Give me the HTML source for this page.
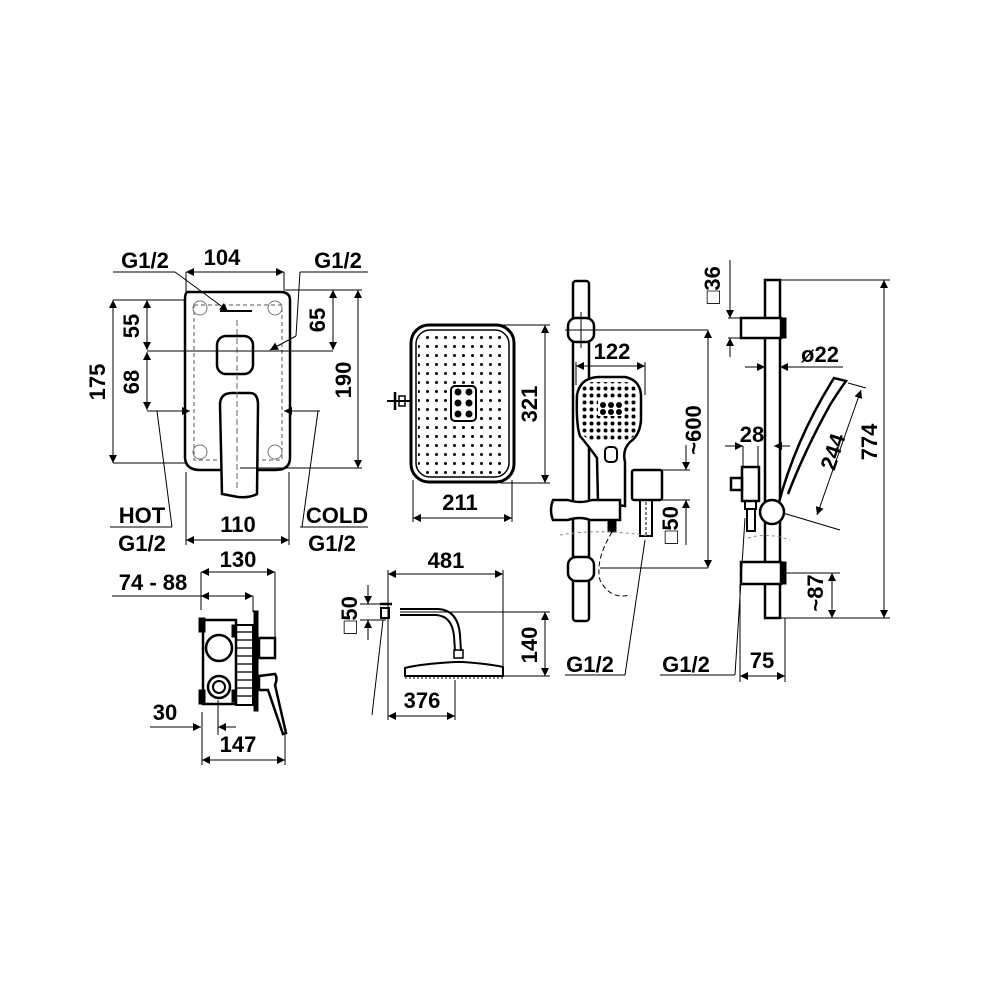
<!DOCTYPE html>
<html><head><meta charset="utf-8"><style>
html,body{margin:0;padding:0;background:#fff;}
svg{display:block}
text{font-family:"Liberation Sans",Arial,sans-serif;font-weight:bold;font-size:22px;fill:#000}
</style></head><body>
<svg width="1000" height="1000" viewBox="0 0 1000 1000" xmlns="http://www.w3.org/2000/svg">
<defs>
<marker id="a" viewBox="0 0 10 10" refX="10" refY="5" markerWidth="16" markerHeight="8" orient="auto-start-reverse" markerUnits="userSpaceOnUse"><path d="M0,0 L10,5 L0,10 z" fill="#000"/></marker>
<pattern id="dots" width="9" height="9" patternUnits="userSpaceOnUse"><circle cx="4.5" cy="4.5" r="1.5" fill="#000"/></pattern>
<pattern id="dots2" width="7" height="7" patternUnits="userSpaceOnUse"><circle cx="3.5" cy="3.5" r="2" fill="#000"/></pattern>
</defs>
<rect width="1000" height="1000" fill="#fff"/>
<g fill="none" stroke="#000" stroke-width="1">

<!-- ===== Valve front ===== -->
<path d="M188,292 Q185,292 185,300 L185,458 Q186,470 200,470 L275,470 Q290,470 290,458 L290,300 Q290,292 280,292 Z" stroke-width="2.5"/>
<rect x="194" y="305" width="88" height="155" stroke-dasharray="4,3" stroke="#555"/>
<circle cx="200" cy="308" r="7" stroke="#777"/><circle cx="275" cy="308" r="7" stroke="#777"/>
<circle cx="200" cy="452" r="7" stroke="#777"/><circle cx="275" cy="452" r="7" stroke="#777"/>
<rect x="217" y="336" width="36" height="38" rx="9" stroke-width="2.5"/>
<path d="M222,494 L220,405 Q220,393 232,393 L250,393 Q258,393 258,405 L257,494 Q250,498 238,497 Z" stroke-width="2.5" fill="#fff"/>
<line x1="237" y1="320" x2="237" y2="490" stroke-dasharray="6,3" stroke="#666"/>
<line x1="220" y1="311" x2="252" y2="311" stroke-width="2"/>
<line x1="186" y1="272" x2="284" y2="272" marker-start="url(#a)" marker-end="url(#a)"/>
<line x1="186" y1="272" x2="186" y2="292"/><line x1="284" y1="272" x2="284" y2="292"/>
<line x1="113" y1="272" x2="175" y2="272"/><line x1="175" y1="272" x2="228" y2="311" marker-end="url(#a)"/>
<line x1="300" y1="272" x2="368" y2="272"/><line x1="300" y1="272" x2="296" y2="336"/><line x1="296" y1="336" x2="270" y2="350" marker-end="url(#a)"/>
<line x1="113" y1="300" x2="113" y2="463" marker-start="url(#a)" marker-end="url(#a)"/>
<line x1="113" y1="300" x2="185" y2="300"/><line x1="113" y1="463" x2="185" y2="463"/>
<line x1="147" y1="300" x2="147" y2="350" marker-start="url(#a)" marker-end="url(#a)"/>
<line x1="147" y1="352" x2="147" y2="410" marker-start="url(#a)" marker-end="url(#a)"/>
<line x1="147" y1="351" x2="333" y2="351"/>
<line x1="147" y1="411" x2="190" y2="411" marker-end="url(#a)"/>
<line x1="320" y1="411" x2="284" y2="411" marker-end="url(#a)"/>
<line x1="333" y1="290" x2="333" y2="350" marker-start="url(#a)" marker-end="url(#a)"/>
<line x1="358" y1="290" x2="358" y2="468" marker-start="url(#a)" marker-end="url(#a)"/>
<line x1="285" y1="290" x2="362" y2="290"/><line x1="240" y1="468" x2="362" y2="468"/>
<line x1="157" y1="411" x2="172" y2="527"/><line x1="318" y1="411" x2="302" y2="527"/>
<line x1="110" y1="527" x2="172" y2="527"/><line x1="300" y1="527" x2="368" y2="527"/>
<line x1="186" y1="472" x2="186" y2="545"/><line x1="289" y1="472" x2="289" y2="545"/>
<line x1="186" y1="540" x2="289" y2="540" marker-start="url(#a)" marker-end="url(#a)"/>

<!-- ===== Valve body ===== -->
<line x1="201" y1="572" x2="275" y2="572" marker-start="url(#a)" marker-end="url(#a)"/>
<line x1="201" y1="572" x2="201" y2="610"/><line x1="275" y1="572" x2="275" y2="655"/>
<line x1="112" y1="596" x2="253" y2="596"/>
<line x1="201" y1="596" x2="253" y2="596" marker-start="url(#a)" marker-end="url(#a)"/>
<line x1="253" y1="596" x2="253" y2="612"/>
<rect x="203" y="620" width="33" height="84" stroke-width="2.5"/>
<rect x="199" y="618" width="6" height="14" fill="#000"/><rect x="199" y="690" width="6" height="14" fill="#000"/>
<rect x="232" y="625" width="4" height="12" fill="#000"/><rect x="232" y="690" width="4" height="12" fill="#000"/>
<circle cx="219" cy="648" r="13" stroke-width="2.5"/>
<circle cx="219" cy="687" r="11" stroke-width="2.5"/><circle cx="219" cy="687" r="6" stroke-width="2"/>
<rect x="236" y="625" width="17" height="80" stroke-width="2"/>
<g stroke-width="1.3"><line x1="237" y1="632" x2="252" y2="632"/><line x1="237" y1="640" x2="252" y2="640"/><line x1="237" y1="648" x2="252" y2="648"/><line x1="237" y1="656" x2="252" y2="656"/><line x1="237" y1="664" x2="252" y2="664"/><line x1="237" y1="672" x2="252" y2="672"/><line x1="237" y1="680" x2="252" y2="680"/><line x1="237" y1="688" x2="252" y2="688"/><line x1="237" y1="696" x2="252" y2="696"/></g>
<rect x="254" y="611" width="4" height="100" fill="#000"/>
<rect x="259" y="638" width="16" height="20" stroke-width="2.5"/>
<path d="M259,676 L275,674 Q278,678 275,685 L286,733 L283,734 L268,690 L259,690 Z" stroke-width="2.5"/>
<line x1="150" y1="727" x2="201" y2="727" marker-end="url(#a)"/>
<line x1="236" y1="727" x2="218" y2="727" marker-end="url(#a)"/>
<line x1="218" y1="700" x2="218" y2="735"/>
<line x1="202" y1="712" x2="202" y2="765"/><line x1="285" y1="735" x2="285" y2="765"/>
<line x1="202" y1="760" x2="285" y2="760" marker-start="url(#a)" marker-end="url(#a)"/>

<!-- ===== Rain shower front ===== -->
<rect x="411" y="325" width="103" height="157" rx="18" stroke-width="3"/>
<rect x="416" y="330" width="93" height="147" rx="14" stroke-width="1.5"/>
<rect x="418" y="332" width="89" height="143" rx="12" fill="url(#dots)" stroke="none"/>
<rect x="451" y="386" width="25" height="35" rx="4" fill="#fff" stroke-width="2"/>
<g fill="#000"><circle cx="458" cy="392" r="3"/><circle cx="469" cy="392" r="3"/><circle cx="458" cy="403" r="3"/><circle cx="469" cy="403" r="3"/><circle cx="458" cy="414" r="3"/><circle cx="469" cy="414" r="3"/></g>
<line x1="395" y1="392" x2="395" y2="410" stroke-width="2.5"/><line x1="387" y1="401" x2="410" y2="401" stroke-width="2"/>
<rect x="399" y="396" width="6" height="10" stroke-width="1.5"/>
<line x1="413" y1="480" x2="413" y2="522"/><line x1="512" y1="480" x2="512" y2="522"/>
<line x1="413" y1="518" x2="512" y2="518" marker-start="url(#a)" marker-end="url(#a)"/>
<line x1="500" y1="325" x2="550" y2="325"/><line x1="500" y1="483" x2="550" y2="483"/>
<line x1="545" y1="325" x2="545" y2="483" marker-start="url(#a)" marker-end="url(#a)"/>

<!-- ===== Rain shower side ===== -->
<line x1="388" y1="574" x2="503" y2="574" marker-start="url(#a)" marker-end="url(#a)"/>
<line x1="388" y1="570" x2="388" y2="720"/><line x1="503" y1="570" x2="503" y2="676"/>
<rect x="381" y="608" width="8" height="10" stroke-width="2"/>
<line x1="380" y1="604" x2="392" y2="604" stroke-width="2.5"/>
<path d="M400,609 L438,609 Q458,610 460,635 L461,651 M400,615 L436,615 Q452,616 454,636 L455,651" stroke-width="2"/>
<rect x="454" y="650" width="9" height="8" stroke-width="1.5"/>
<path d="M405,676 L405,668 Q420,664 455,662 L463,662 Q490,664 503,667 L503,676 Z" stroke-width="2"/>
<line x1="405" y1="678" x2="503" y2="678" stroke-dasharray="2,2"/>
<line x1="360" y1="604" x2="386" y2="604"/><line x1="360" y1="620" x2="386" y2="620"/>
<line x1="368" y1="585" x2="368" y2="604" marker-end="url(#a)"/>
<line x1="368" y1="640" x2="368" y2="620" marker-end="url(#a)"/>
<line x1="383" y1="620" x2="372" y2="715"/>
<line x1="400" y1="612" x2="550" y2="612"/><line x1="503" y1="676" x2="550" y2="676"/>
<line x1="545" y1="612" x2="545" y2="676" marker-start="url(#a)" marker-end="url(#a)"/>
<line x1="455" y1="680" x2="455" y2="720"/>
<line x1="388" y1="716" x2="455" y2="716" marker-start="url(#a)" marker-end="url(#a)"/>

<!-- ===== Slide rail front ===== -->
<rect x="573" y="281" width="16" height="340" rx="3" stroke-width="2.5" fill="#fff"/>
<rect x="568" y="318" width="26" height="24" rx="8" stroke-width="2.5" fill="#fff"/>
<rect x="568" y="557" width="26" height="24" rx="8" stroke-width="2.5" fill="#fff"/>
<line x1="565" y1="330" x2="708" y2="330"/><line x1="600" y1="568" x2="708" y2="568"/>
<line x1="581" y1="312" x2="581" y2="348"/>
<path d="M598,503 L597,458 Q590,448 580,436 Q576,425 577,395 Q580,378 598,377 L625,377 Q640,380 641,395 L641,420 Q640,435 630,442 Q622,450 625,462 L625,506 Z" stroke-width="2.5" fill="#fff"/>
<rect x="581" y="382" width="56" height="58" rx="12" fill="url(#dots2)" stroke="none"/>
<rect x="598" y="400" width="26" height="16" fill="#fff" stroke="none"/>
<g fill="#000"><circle cx="603" cy="405" r="2.5"/><circle cx="611" cy="405" r="2.5"/><circle cx="619" cy="405" r="2.5"/><circle cx="603" cy="412" r="2.5"/><circle cx="611" cy="412" r="2.5"/><circle cx="619" cy="412" r="2.5"/></g>
<rect x="605" y="447" width="12" height="15" rx="4" stroke-width="2"/>
<path d="M553,500 L568,500 Q580,504 592,500 L620,500 L620,520 L590,520 Q580,516 568,520 L553,520 Q549,510 553,500 Z" stroke-width="2.5" fill="#fff"/>
<rect x="608" y="520" width="8" height="12" fill="#000"/>
<line x1="576" y1="366" x2="645" y2="366" marker-start="url(#a)" marker-end="url(#a)"/>
<line x1="576" y1="362" x2="576" y2="385"/><line x1="645" y1="362" x2="645" y2="395"/>
<rect x="632" y="470" width="30" height="30" rx="2" stroke-width="2.5"/>
<rect x="640" y="500" width="12" height="36" stroke-width="2"/>
<line x1="646" y1="502" x2="646" y2="536" stroke-dasharray="3,2"/>
<line x1="662" y1="470" x2="690" y2="470"/><line x1="662" y1="500" x2="690" y2="500"/>
<line x1="686" y1="445" x2="686" y2="470" marker-end="url(#a)"/>
<line x1="686" y1="545" x2="686" y2="500" marker-end="url(#a)"/>
<line x1="708" y1="330" x2="708" y2="568" marker-start="url(#a)" marker-end="url(#a)"/>
<path d="M612,532 Q595,560 600,580 Q610,600 630,595" stroke-dasharray="5,3"/>
<line x1="645" y1="540" x2="625" y2="675"/>
<line x1="565" y1="675" x2="625" y2="675"/>
<path d="M560,535 Q600,528 650,536" stroke-dasharray="3,3" stroke="#888"/>

<!-- ===== Slide rail side ===== -->
<rect x="765" y="280" width="15" height="338" stroke-width="2.5" fill="#fff"/>
<rect x="741" y="318" width="40" height="20" stroke-width="2.5" fill="#fff"/>
<rect x="781" y="318" width="5" height="20" fill="#000"/>
<rect x="741" y="562" width="40" height="22" stroke-width="2.5" fill="#fff"/>
<rect x="781" y="562" width="5" height="22" fill="#000"/>
<line x1="780" y1="280" x2="890" y2="280"/><line x1="780" y1="618" x2="890" y2="618"/>
<line x1="884" y1="280" x2="884" y2="618" marker-start="url(#a)" marker-end="url(#a)"/>
<line x1="730" y1="260" x2="730" y2="318" marker-end="url(#a)"/>
<line x1="730" y1="357" x2="730" y2="338" marker-end="url(#a)"/>
<line x1="728" y1="318" x2="741" y2="318"/><line x1="728" y1="338" x2="741" y2="338"/>
<line x1="745" y1="367" x2="765" y2="367" marker-end="url(#a)"/>
<line x1="843" y1="367" x2="780" y2="367" marker-end="url(#a)"/>
<line x1="725" y1="446" x2="743" y2="446" marker-end="url(#a)"/>
<line x1="790" y1="446" x2="774" y2="446" marker-end="url(#a)"/>
<line x1="743" y1="446" x2="743" y2="468"/><line x1="758" y1="446" x2="758" y2="468"/>
<rect x="742" y="467" width="17" height="34" stroke-width="2.5" fill="#fff"/>
<rect x="731" y="478" width="11" height="12" stroke-width="2.5"/>
<rect x="745" y="501" width="11" height="8" stroke-width="2"/>
<rect x="747" y="509" width="8" height="22" stroke-width="2"/>
<path d="M778,506 Q795,440 834,378 L846,381 Q838,392 830,405 Q805,450 788,494" stroke-width="2.5" fill="#fff"/>
<circle cx="772" cy="512" r="12" stroke-width="2.5" fill="#fff"/>
<line x1="783" y1="513" x2="840" y2="530"/>
<line x1="848" y1="383" x2="866" y2="388"/>
<line x1="861" y1="390" x2="817" y2="515" marker-start="url(#a)" marker-end="url(#a)"/>
<line x1="745" y1="518" x2="735" y2="675"/>
<line x1="660" y1="675" x2="735" y2="675"/>
<line x1="781" y1="573" x2="840" y2="573"/>
<line x1="832" y1="573" x2="832" y2="618" marker-start="url(#a)" marker-end="url(#a)"/>
<line x1="740" y1="584" x2="740" y2="682"/><line x1="785" y1="618" x2="785" y2="682"/>
<line x1="740" y1="676" x2="785" y2="676" marker-start="url(#a)" marker-end="url(#a)"/>
<path d="M748,538 Q768,532 790,540" stroke-dasharray="3,3" stroke="#888"/>
</g>

<!-- ===== Text ===== -->
<text x="222" y="265" text-anchor="middle">104</text>
<text x="145" y="268" text-anchor="middle">G1/2</text>
<text x="338" y="268" text-anchor="middle">G1/2</text>
<text transform="translate(105,382) rotate(-90)" text-anchor="middle">175</text>
<text transform="translate(139,326) rotate(-90)" text-anchor="middle">55</text>
<text transform="translate(139,382) rotate(-90)" text-anchor="middle">68</text>
<text transform="translate(325,320) rotate(-90)" text-anchor="middle">65</text>
<text transform="translate(351,380) rotate(-90)" text-anchor="middle">190</text>
<text x="142" y="523" text-anchor="middle">HOT</text>
<text x="142" y="551" text-anchor="middle">G1/2</text>
<text x="238" y="532" text-anchor="middle">110</text>
<text x="337" y="523" text-anchor="middle">COLD</text>
<text x="332" y="551" text-anchor="middle">G1/2</text>
<text x="238" y="567" text-anchor="middle">130</text>
<text x="153" y="590" text-anchor="middle">74 - 88</text>
<text x="165" y="720" text-anchor="middle">30</text>
<text x="238" y="752" text-anchor="middle">147</text>
<text x="460" y="510" text-anchor="middle">211</text>
<text transform="translate(537,404) rotate(-90)" text-anchor="middle">321</text>
<text x="446" y="568" text-anchor="middle">481</text>
<text transform="translate(357,615) rotate(-90)" text-anchor="middle">□50</text>
<text transform="translate(537,645) rotate(-90)" text-anchor="middle">140</text>
<text x="422" y="708" text-anchor="middle">376</text>
<text x="612" y="359" text-anchor="middle">122</text>
<text transform="translate(701,430) rotate(-90)" text-anchor="middle">~600</text>
<text transform="translate(678,525) rotate(-90)" text-anchor="middle">□50</text>
<text x="590" y="672" text-anchor="middle">G1/2</text>
<text transform="translate(720,285) rotate(-90)" text-anchor="middle">□36</text>
<text x="820" y="362" text-anchor="middle">ø22</text>
<text x="752" y="442" text-anchor="middle">28</text>
<text transform="translate(840,454) rotate(-72)" text-anchor="middle">244</text>
<text transform="translate(877,442) rotate(-90)" text-anchor="middle">774</text>
<text transform="translate(823,593) rotate(-90)" text-anchor="middle">~87</text>
<text x="762" y="668" text-anchor="middle">75</text>
<text x="686" y="672" text-anchor="middle">G1/2</text>
</svg>
</body></html>
